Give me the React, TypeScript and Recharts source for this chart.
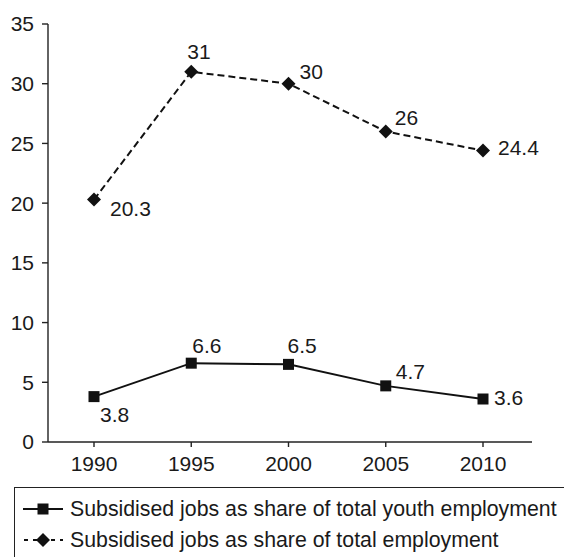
import React from "react";
import { LineChart, Line, XAxis, YAxis, LabelList } from "recharts";

const years = ["1990", "1995", "2000", "2005", "2010"];
const youthShare = [3.8, 6.6, 6.5, 4.7, 3.6];
const totalShare = [20.3, 31, 30, 26, 24.4];
const yTicks = [0, 5, 10, 15, 20, 25, 30, 35];

const youthName = "Subsidised jobs as share of total youth employment";
const totalName = "Subsidised jobs as share of total employment";

// where each value label sits relative to its point: [dx, dy]
const youthLabelPos = [[6, 18], [1, -18], [-1, -19], [10, -14], [11, -2]];
const totalLabelPos = [[16, 9], [-4, -20], [11, -12], [9, -14], [15, -3]];

const FONT = "'Liberation Sans', Arial, Helvetica, sans-serif";
const INK = "#111";
const TEXT = "#1a1a1a";

const data = years.map((year, i) => ({
  year,
  youth: youthShare[i],
  total: totalShare[i],
}));

const SquareDot = (props: any) => {
  const { cx, cy } = props;
  if (cx == null || cy == null) return null;
  return <rect x={cx - 5.5} y={cy - 5.5} width={11} height={11} fill={INK} />;
};

const DiamondDot = (props: any) => {
  const { cx, cy } = props;
  if (cx == null || cy == null) return null;
  const r = 7;
  return (
    <polygon
      points={`${cx},${cy - r} ${cx + r},${cy} ${cx},${cy + r} ${cx - r},${cy}`}
      fill={INK}
    />
  );
};

const makeLabel = (pos: number[][]) => (props: any) => {
  const { x, y, value, index } = props;
  const [dx, dy] = pos[index] || [0, 0];
  return (
    <text
      x={x + dx}
      y={y + dy}
      textAnchor="start"
      dominantBaseline="central"
      fontFamily={FONT}
      fontSize={21}
      fill={TEXT}
    >
      {value}
    </text>
  );
};

function LegendBox() {
  return (
    <div
      style={{
        position: "absolute",
        left: 14,
        top: 487,
        width: 600,
        height: 120,
        border: "1.5px solid #222",
        boxSizing: "border-box",
        fontFamily: FONT,
        fontSize: 21.3,
        color: TEXT,
      }}
    >
      <div style={{ position: "absolute", left: 8, top: 6, display: "flex", alignItems: "center", height: 30 }}>
        <svg width={42} height={20}>
          <line x1={0} y1={10} x2={40} y2={10} stroke={INK} strokeWidth={2} />
          <rect x={14.5} y={4.5} width={11} height={11} fill={INK} />
        </svg>
        <span style={{ marginLeft: 5, whiteSpace: "nowrap" }}>{youthName}</span>
      </div>
      <div style={{ position: "absolute", left: 8, top: 37, display: "flex", alignItems: "center", height: 30 }}>
        <svg width={42} height={20}>
          <line x1={1} y1={10} x2={40} y2={10} stroke={INK} strokeWidth={2} strokeDasharray="4 5" />
          <polygon points="20,3 27,10 20,17 13,10" fill={INK} />
        </svg>
        <span style={{ marginLeft: 5, whiteSpace: "nowrap" }}>{totalName}</span>
      </div>
    </div>
  );
}

export default function App() {
  const tickStyle = { fontFamily: FONT, fontSize: 21, fill: TEXT };
  return (
    <div
      style={{
        position: "absolute",
        left: 0,
        top: 0,
        width: 564,
        height: 557,
        overflow: "hidden",
        background: "#fff",
      }}
    >
      <LineChart width={564} height={487} data={data} margin={{ top: 24, right: 32, left: 0, bottom: 0 }}>
        <XAxis
          dataKey="year"
          height={45}
          padding={{ left: 46, right: 49 }}
          tick={tickStyle}
          tickSize={5}
          tickMargin={9}
          stroke="#222"
          axisLine={{ stroke: "#222", strokeWidth: 1.4 }}
          tickLine={{ stroke: "#222", strokeWidth: 1.4 }}
        />
        <YAxis
          width={48}
          domain={[0, 35]}
          ticks={yTicks}
          interval={0}
          tick={tickStyle}
          tickSize={6}
          tickMargin={8}
          stroke="#222"
          axisLine={{ stroke: "#222", strokeWidth: 1.4 }}
          tickLine={{ stroke: "#222", strokeWidth: 1.4 }}
        />
        <Line
          dataKey="total"
          name={totalName}
          type="linear"
          stroke={INK}
          strokeWidth={2}
          strokeDasharray="7 4"
          dot={<DiamondDot />}
          activeDot={false}
          isAnimationActive={false}
        >
          <LabelList dataKey="total" content={makeLabel(totalLabelPos)} />
        </Line>
        <Line
          dataKey="youth"
          name={youthName}
          type="linear"
          stroke={INK}
          strokeWidth={2}
          dot={<SquareDot />}
          activeDot={false}
          isAnimationActive={false}
        >
          <LabelList dataKey="youth" content={makeLabel(youthLabelPos)} />
        </Line>
      </LineChart>
      <LegendBox />
    </div>
  );
}
